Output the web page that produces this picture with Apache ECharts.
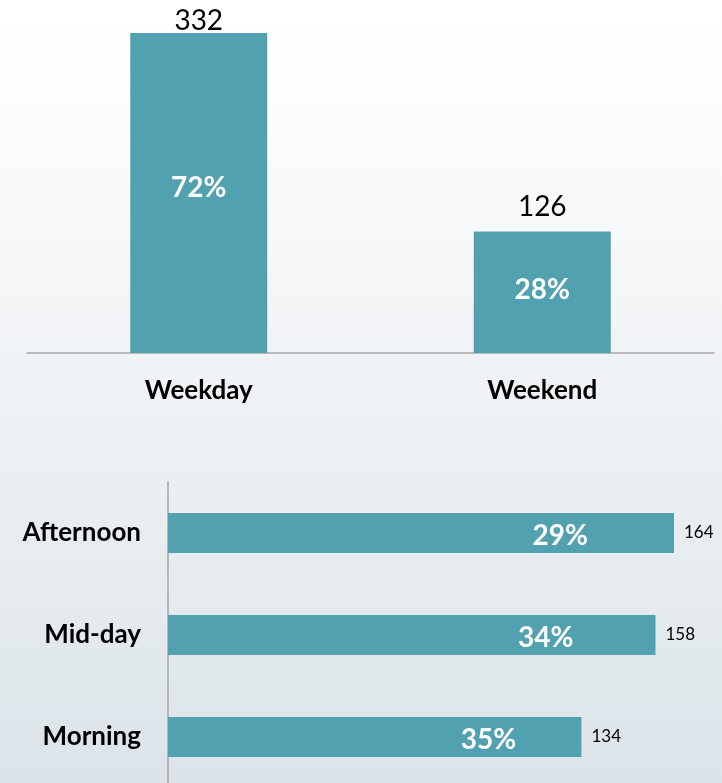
<!DOCTYPE html>
<html>
<head>
<meta charset="utf-8">
<script src="https://cdn.jsdelivr.net/npm/echarts@6/dist/echarts.min.js"></script>
<style>
html,body{margin:0;padding:0;}
#chart{width:722px;height:783px;}
</style>
</head>
<body>
<div id="chart"></div>
<script>
const dayCategories = ['Weekday', 'Weekend'];
const dayValues = [332, 126];
const dayShares = ['72%', '28%'];

const timeCategories = ['Afternoon', 'Mid-day', 'Morning'];
const timeValues = [164, 158, 134];
const timeShares = ['29%', '34%', '35%'];

const FONT = 'Lato, "Open Sans", sans-serif';
const BAR = '#52a1b1';
const dayMax = Math.max(...dayValues);

const chart = echarts.init(document.getElementById('chart'));
chart.setOption({
  animation: false,
  backgroundColor: {
    type: 'linear', x: 0, y: 0, x2: 0, y2: 1,
    colorStops: [
      { offset: 0, color: '#ffffff' },
      { offset: 0.12, color: '#fdfdfd' },
      { offset: 1, color: '#dce4e9' }
    ]
  },
  textStyle: { fontFamily: FONT },
  grid: [
    { left: 27, right: 8, top: 33, bottom: 430, outerBoundsMode: 'none' },
    { left: 168, top: 482, width: 506, height: 306, outerBoundsMode: 'none' }
  ],
  xAxis: [
    {
      gridIndex: 0, type: 'category', data: dayCategories,
      axisLine: { lineStyle: { color: '#a6a6a6', width: 1.5 } },
      axisTick: { show: false },
      axisLabel: { color: '#000', fontSize: 26, fontWeight: 'bold', margin: 25, fontFamily: FONT }
    },
    {
      gridIndex: 1, type: 'value', min: 0, max: 164,
      axisLine: { show: false }, axisTick: { show: false },
      axisLabel: { show: false }, splitLine: { show: false }
    }
  ],
  yAxis: [
    {
      gridIndex: 0, type: 'value', min: 0, max: 332,
      axisLine: { show: false }, axisTick: { show: false },
      axisLabel: { show: false }, splitLine: { show: false }
    },
    {
      gridIndex: 1, type: 'category', data: timeCategories, inverse: true,
      axisLine: { show: true, lineStyle: { color: '#a6a6a6', width: 1.5 } },
      axisTick: { show: false },
      axisLabel: { color: '#000', fontSize: 26, fontWeight: 'bold', margin: 27, fontFamily: FONT }
    }
  ],
  series: [
    {
      type: 'bar', xAxisIndex: 0, yAxisIndex: 0, data: dayValues,
      barWidth: 137, itemStyle: { color: BAR },
      label: {
        show: true, position: ['50%', '48.5%'], align: 'center', verticalAlign: 'middle',
        color: '#fff', fontSize: 28, fontWeight: 'bold', fontFamily: FONT,
        formatter: p => dayShares[p.dataIndex]
      }
    },
    {
      type: 'bar', xAxisIndex: 0, yAxisIndex: 0,
      data: dayValues.map(v => ({ value: v, label: { distance: v === dayMax ? -2 : 11 } })),
      barWidth: 137, barGap: '-100%', itemStyle: { color: 'rgba(0,0,0,0)' },
      label: {
        show: true, position: 'top', color: '#000', fontSize: 28,
        fontFamily: FONT, formatter: p => String(p.value)
      },
      silent: true
    },
    {
      type: 'bar', xAxisIndex: 1, yAxisIndex: 1, data: timeValues,
      barWidth: 40, itemStyle: { color: BAR },
      label: {
        show: true, position: ['77.5%', '58%'], align: 'center', verticalAlign: 'middle',
        color: '#fff', fontSize: 28, fontWeight: 'bold', fontFamily: FONT,
        formatter: p => timeShares[p.dataIndex]
      }
    },
    {
      type: 'bar', xAxisIndex: 1, yAxisIndex: 1, data: timeValues,
      barWidth: 40, barGap: '-100%', itemStyle: { color: 'rgba(0,0,0,0)' },
      label: {
        show: true, position: 'right', distance: 10, color: '#000', fontSize: 17,
        fontFamily: FONT, formatter: p => String(p.value)
      },
      silent: true
    }
  ]
});
</script>
</body>
</html>
